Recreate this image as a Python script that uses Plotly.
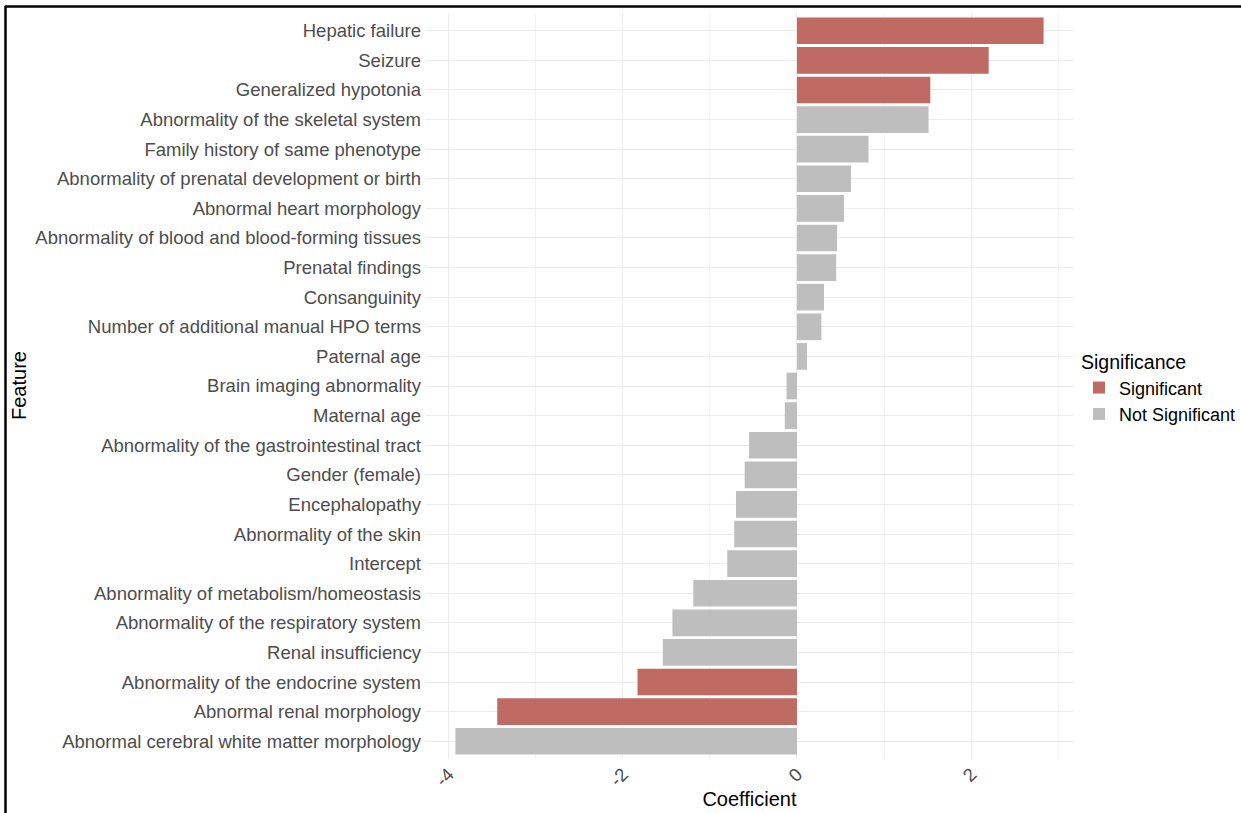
import plotly.graph_objects as go

# Model coefficients, listed top to bottom as shown on the chart
features = [
    "Hepatic failure",
    "Seizure",
    "Generalized hypotonia",
    "Abnormality of the skeletal system",
    "Family history of same phenotype",
    "Abnormality of prenatal development or birth",
    "Abnormal heart morphology",
    "Abnormality of blood and blood-forming tissues",
    "Prenatal findings",
    "Consanguinity",
    "Number of additional manual HPO terms",
    "Paternal age",
    "Brain imaging abnormality",
    "Maternal age",
    "Abnormality of the gastrointestinal tract",
    "Gender (female)",
    "Encephalopathy",
    "Abnormality of the skin",
    "Intercept",
    "Abnormality of metabolism/homeostasis",
    "Abnormality of the respiratory system",
    "Renal insufficiency",
    "Abnormality of the endocrine system",
    "Abnormal renal morphology",
    "Abnormal cerebral white matter morphology",
]
coefficients = [
    2.83, 2.20, 1.53, 1.51, 0.82, 0.62, 0.54, 0.46, 0.45, 0.31, 0.28, 0.115,
    -0.12, -0.14, -0.55, -0.60, -0.70, -0.72, -0.80, -1.19, -1.43, -1.54,
    -1.83, -3.44, -3.92,
]
significant = [
    True, True, True, False, False, False, False, False, False, False, False,
    False, False, False, False, False, False, False, False, False, False, False,
    True, True, False,
]

x_tick_vals = [-4, -2, 0, 2]
x_tick_text = ["-4", "-2", "0", "2"]
x_minor_vals = [-3, -1, 1, 3]

COLORS = {"Significant": "#BF6A62", "Not Significant": "#BEBEBE"}
FONT = "Liberation Sans, Arial, sans-serif"

W, H = 1241, 813
L, R, T, B = 426, 168, 13, 54
PW, PH = W - L - R, H - T - B

fig = go.Figure()
for group, flag in [("Significant", True), ("Not Significant", False)]:
    ys = [f for f, s in zip(features, significant) if s == flag]
    xs = [c for c, s in zip(coefficients, significant) if s == flag]
    fig.add_trace(go.Bar(
        x=xs, y=ys, orientation="h", name=group,
        marker=dict(color=COLORS[group], line=dict(width=0)),
        width=0.9,
    ))

lo = min(min(coefficients), 0)
hi = max(max(coefficients), 0)
pad = 0.05 * (hi - lo)


def px_x(p):
    return (p - L) / PW


def px_y(p):
    return (H - B - p) / PH


# frame lines along the top and left edges of the image
border = [
    dict(type="line", xref="paper", yref="paper",
         x0=px_x(5), x1=px_x(W + 2), y0=px_y(6.5), y1=px_y(6.5),
         line=dict(color="black", width=2.5)),
    dict(type="line", xref="paper", yref="paper",
         x0=px_x(5.5), x1=px_x(5.5), y0=px_y(6), y1=px_y(H + 2),
         line=dict(color="black", width=2.5)),
]

# y-axis title placed as a rotated label at the far left
feature_title = dict(
    text="Feature", textangle=-90, showarrow=False,
    xref="paper", yref="paper", x=px_x(19), y=0.5,
    xanchor="center", yanchor="middle",
    font=dict(size=20, color="black", family=FONT),
)

fig.update_layout(
    width=W, height=H,
    margin=dict(l=L, r=R, t=T, b=B, autoexpand=False),
    paper_bgcolor="white", plot_bgcolor="white",
    barmode="overlay",
    font=dict(family=FONT, color="#4D4D4D", size=18.5),
    shapes=border,
    annotations=[feature_title],
    legend=dict(
        title=dict(text="Significance", font=dict(size=19.5, color="black")),
        font=dict(size=18, color="black"),
        x=px_x(1079), y=px_y(344), xanchor="left", yanchor="top",
        tracegroupgap=0, itemwidth=30,
        bgcolor="rgba(0,0,0,0)",
    ),
    showlegend=True,
)

fig.update_xaxes(
    range=[lo - pad, hi + pad],
    tickvals=x_tick_vals, ticktext=x_tick_text,
    tickangle=-45, ticks="", showline=False, zeroline=False,
    showgrid=True, gridcolor="#EBEBEB", gridwidth=1.1,
    minor=dict(tickvals=x_minor_vals, showgrid=True, gridcolor="#F3F3F3", gridwidth=0.6),
    tickfont=dict(size=18.5, color="#4D4D4D"),
    title=dict(text="Coefficient", font=dict(size=20, color="black"), standoff=2),
)

fig.update_yaxes(
    categoryorder="array", categoryarray=features[::-1],
    range=[-0.6, len(features) - 0.4],
    ticks="", showline=False, zeroline=False,
    showgrid=True, gridcolor="#EBEBEB", gridwidth=1.1,
    ticklabelstandoff=4,
    tickfont=dict(size=18.5, color="#4D4D4D"),
)

fig.write_html("out.html")
